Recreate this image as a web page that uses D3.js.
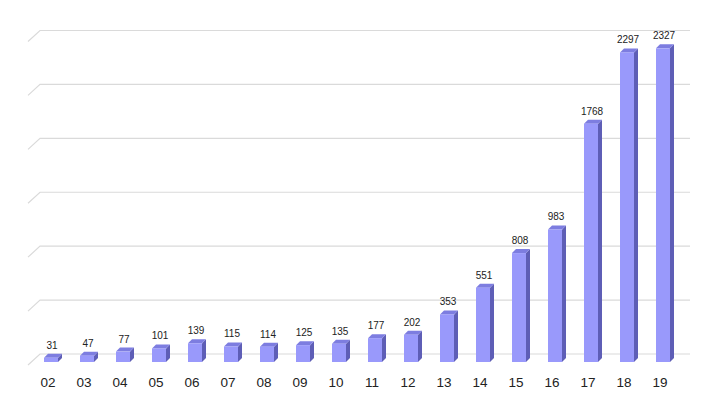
<!DOCTYPE html>
<html>
<head>
<meta charset="utf-8">
<script src="https://cdn.jsdelivr.net/npm/d3@7"></script>
<style>
  body { margin: 0; background: #fff; }
  svg { display: block; font-family: "Liberation Sans", Arial, sans-serif; }
</style>
</head>
<body>
<svg width="705" height="397"></svg>
<script>
"use strict";
var categories = ['02','03','04','05','06','07','08','09','10','11','12','13','14','15','16','17','18','19'];
var values = [31, 47, 77, 101, 139, 115, 114, 125, 135, 177, 202, 353, 551, 808, 983, 1768, 2297, 2327];
var gridTicks = [0, 400, 800, 1200, 1600, 2000, 2400];

var svg = d3.select("svg");

// floor lines: back wall at floorBack, bar fronts stand on floorFront
var floorBack = 354, floorFront = 362;
var x = d3.scaleBand().domain(categories).range([30, 678]);
var h = d3.scaleLinear().domain([0, 2400]).range([0, 323.5]);

// back wall gridlines with the little diagonal on the left side wall
var grid = svg.append("g")
  .attr('stroke', '#dadada')
  .attr('stroke-width', 1.2)
  .attr('fill', 'none');
grid.selectAll("path")
  .data(gridTicks)
  .enter()
  .append("path")
  .attr('d', d => {
      var yy = floorBack - h(d);
      return 'M28,' + (yy + 11) + 'L40,' + yy + 'L690,' + yy;
  });

var bw = 14, dx = 4, dy = 4;
var bars = svg.append("g").selectAll("g")
  .data(values)
  .enter()
  .append("g")
  .attr('transform', (d, i) => 'translate(' + (x(categories[i]) + x.bandwidth() / 2 - 4) + ',0)');

// side face
bars.append("path")
  .attr('fill', '#5e5eb6')
  .attr('d', d => {
      var top = floorFront - h(d);
      return 'M' + bw + ',' + top + 'L' + (bw + dx) + ',' + (top - dy) +
        'L' + (bw + dx) + ',' + (floorFront - dy) + 'L' + bw + ',' + floorFront + 'Z';
  });
// top face
bars.append("path")
  .attr('fill', '#7d7de0')
  .attr('d', d => {
      var top = floorFront - h(d);
      return 'M0,' + top + 'L' + dx + ',' + (top - dy) + 'L' + (bw + dx) + ',' + (top - dy) +
        'L' + bw + ',' + top + 'Z';
  });
// front face
bars.append("rect")
  .attr('x', 0)
  .attr('width', bw)
  .attr('y', d => floorFront - h(d))
  .attr('height', d => h(d))
  .attr('fill', '#9999fb');

// value labels
bars.append("text")
  .attr('x', 8)
  .attr('y', d => floorFront - h(d) - dy - 5)
  .attr('text-anchor', 'middle')
  .attr('font-size', 10)
  .attr('fill', '#222')
  .text(d => d);

// category labels
svg.append("g").selectAll("text")
  .data(categories)
  .enter()
  .append("text")
  .attr('x', d => x(d) + x.bandwidth() / 2)
  .attr('y', 387)
  .attr('text-anchor', 'middle')
  .attr('font-size', 13.5)
  .attr('fill', '#222')
  .text(d => d);
</script>
</body>
</html>
